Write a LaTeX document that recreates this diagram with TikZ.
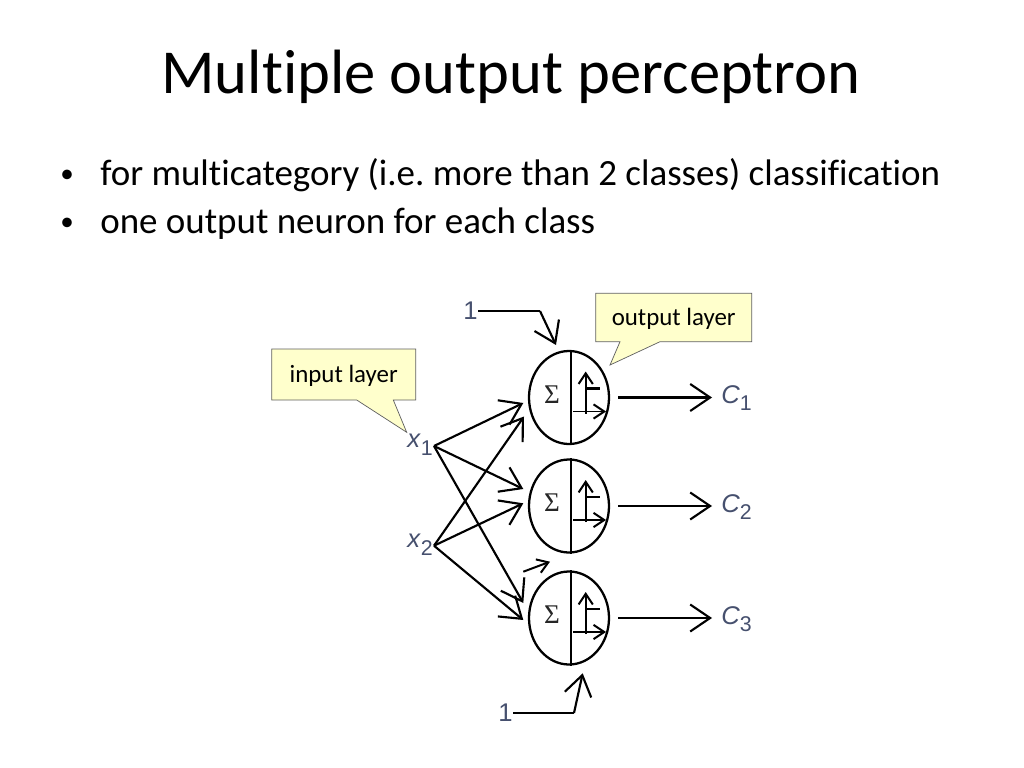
\documentclass[tikz,border=0pt]{standalone}
\usepackage{fontspec}
\setmainfont{Carlito}[Ligatures={NoCommon,NoContextual}]
\newfontfamily\arialf{Liberation Sans}
\newfontfamily\timesf{Liberation Serif}
\usetikzlibrary{arrows.meta,shapes.geometric,calc}
\definecolor{calloutfill}{HTML}{FFFFCC}
\definecolor{calloutdraw}{HTML}{606060}
\definecolor{lblcol}{HTML}{46506E}
\frenchspacing
\begin{document}
\begin{tikzpicture}[x=0.703125pt,y=-0.703125pt,
  openarrow/.style={-{Straight Barb[length=14pt,width=19pt,line width=1.5pt]}, line width=1.5pt},
  smallarrow/.style={-{Straight Barb[length=7.5pt,width=10pt,line width=1.4pt]}, line width=1.4pt},
  wire/.style={line width=1.5pt},
  neuron/.style={ellipse, draw, line width=1.6pt, minimum width=56.25pt, minimum height=65.4pt, inner sep=0pt},
  lbl/.style={font=\arialf\fontsize{18}{20}\selectfont, text=lblcol, inner sep=0pt},
  callout/.style={fill=calloutfill, draw=calloutdraw, line width=0.5pt},
  callouttext/.style={font=\fontsize{17.5}{20}\selectfont, inner sep=0pt}
]
\useasboundingbox (0,0) rectangle (1024,768);
\fill[white] (0,0) rectangle (1024,768);

% title and bullets
\node[anchor=base, font=\fontsize{44}{50}\selectfont, inner sep=0pt] (title) at (511,94) {Multiple output perceptron};
\node[anchor=base west, font=\fontsize{26}{28}\selectfont, inner sep=0pt] (b1) at (100,186) {for multicategory (i.e. more than 2 classes) classification};
\node[anchor=base west, font=\fontsize{26}{28}\selectfont, inner sep=0pt] (b2) at (100,234) {one output neuron for each class};
\node[anchor=base, font=\fontsize{19}{22}\selectfont, inner sep=0pt] (d1) at (67,183) {•};
\node[anchor=base, font=\fontsize{19}{22}\selectfont, inner sep=0pt] (d2) at (67,231) {•};

% neurons
\foreach \i/\y in {1/397.5,2/506,3/618}{
  \node[neuron] (n\i) at (569,\y) {};
  \draw[wire] ($(n\i.north)+(1.7,0)$) coordinate (t\i) -- ($(n\i.south)+(1.7,0)$) coordinate (s\i);
  \node[font=\timesf\fontsize{19}{21}\selectfont, text=black!85, inner sep=0pt] (sig\i) at ($(n\i.center)+(-17,-3)$) {Σ};
  \coordinate (va\i) at ($(n\i.center)+(16.7,16)$);
  \coordinate (vb\i) at ($(n\i.center)+(16.7,-26)$);
  \coordinate (st\i) at ($(n\i.center)+(31,-9)$);
  \coordinate (ha\i) at ($(n\i.center)+(4,14)$);
  \coordinate (hb\i) at ($(n\i.center)+(37,14)$);
  \draw[smallarrow] (va\i) -- (vb\i);
  \draw[wire] ($(n\i.center)+(16.7,-9)$) -- (st\i);
  \draw[smallarrow] (ha\i) -- (hb\i);
  \coordinate (oa\i) at ($(n\i.center)+(49,0)$);
  \coordinate (ob\i) at ($(n\i.center)+(143,0)$);
  \draw[openarrow] (oa\i) -- (ob\i);
}
\node[lbl, anchor=west] (c1) at (721,398) {\textit{C}\raisebox{-0.5ex}{\fontsize{15}{16}\selectfont 1}};
\node[lbl, anchor=west] (c2) at (721,507) {\textit{C}\raisebox{-0.5ex}{\fontsize{15}{16}\selectfont 2}};
\node[lbl, anchor=west] (c3) at (721,619) {\textit{C}\raisebox{-0.5ex}{\fontsize{15}{16}\selectfont 3}};

% inputs
\node[lbl, anchor=east] (x1) at (433,445) {\textit{x}\raisebox{-0.6ex}{\fontsize{15}{16}\selectfont 1}};
\node[lbl, anchor=east] (x2) at (433,545) {\textit{x}\raisebox{-0.6ex}{\fontsize{15}{16}\selectfont 2}};
\coordinate (x1o) at (434,446);
\coordinate (x2o) at (434,545.7);
\draw[openarrow] (x1o) -- (523.3,403);
\draw[openarrow] (x1o) -- (523.3,489);
\draw[openarrow] (x1o) -- (523.3,603);
\draw[openarrow] (x2o) -- (524,416.5);
\draw[openarrow] (x2o) -- (523.3,503.3);
\draw[openarrow] (x2o) -- (523.3,620);

% biases
\node[lbl, anchor=east] (one1) at (478,311) {1};
\draw[wire] (one1.east) -- (540,311) coordinate (bk1);
\draw[openarrow] (bk1) -- (556,345);
\node[lbl, anchor=east] (one3) at (513,713) {1};
\draw[wire] (one3.east) -- (574,713) coordinate (bk3);
\draw[openarrow] (bk3) -- (582.7,673.3);
\coordinate (sm1) at (523.3,571.7);
\draw[smallarrow] (sm1) -- (550,561.7);

% callouts
\draw[callout] (271.7,349) -- (415.7,349) -- (415.7,400) -- (393.3,400) -- (406.7,432.3) -- (356.7,400) -- (271.7,400) -- cycle;
\node[callouttext] (inl) at (343.7,375.5) {input layer};
\draw[callout] (595.7,293.3) -- (751.7,293.3) -- (751.7,341.7) -- (660,341.7) -- (610,365) -- (620,341.7) -- (595.7,341.7) -- cycle;
\node[callouttext] (outl) at (673.7,319) {output layer};
\end{tikzpicture}
\end{document}
